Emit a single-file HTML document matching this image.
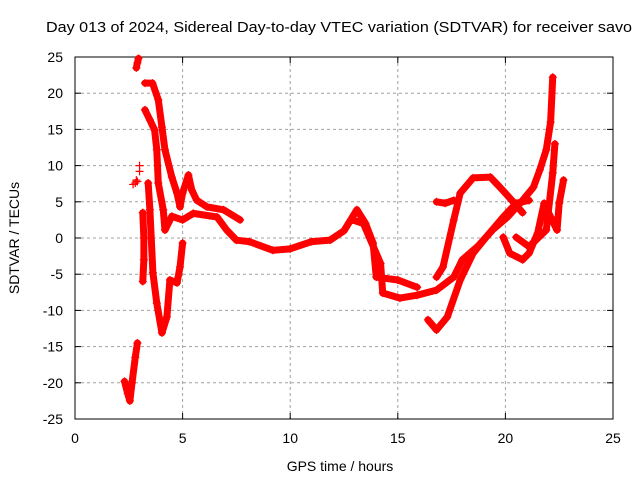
<!DOCTYPE html>
<html><head><meta charset="utf-8"><style>
body{margin:0;background:#fff;}
svg{display:block;font-family:"Liberation Sans",sans-serif;}
</style></head><body>
<svg id="chart" width="640" height="480">
<text x="339" y="32" text-anchor="middle" font-size="15" textLength="586" lengthAdjust="spacingAndGlyphs">Day 013 of 2024, Sidereal Day-to-day VTEC variation (SDTVAR) for receiver savo</text>
<g id="grid"></g>
<g id="axes"></g>
<g id="series"></g>
<text x="340" y="471" text-anchor="middle" font-size="14">GPS time / hours</text>
<text transform="translate(19,238) rotate(-90)" text-anchor="middle" font-size="14">SDTVAR / TECUs</text>
</svg>
<script>
const xTicks=[0,5,10,15,20,25];
const yTicks=[-25,-20,-15,-10,-5,0,5,10,15,20,25];
const trackEarlyTop=[[2.85,23.5],[2.9,24.2],[2.95,24.8]];
const trackEarlyBottom=[[2.3,-19.8],[2.45,-21.5],[2.55,-22.5],[2.65,-20],[2.8,-16.5],[2.9,-14.5]];
const trackLeftCluster=[[2.7,7.4],[2.85,8],[3.0,9.2],[2.8,7.6],[3.0,10],[2.9,7.8]];
const trackLeftColumn=[[3.15,3.5],[3.2,0],[3.2,-3],[3.15,-6]];
const trackDescA=[[3.25,21.4],[3.6,21.4],[3.87,19.1],[4.04,15.3],[4.18,12.2],[4.5,8.4],[4.74,6.2],[4.88,4.3],[5.0,6.2],[5.27,8.7],[5.43,6.6],[5.66,5.2],[6.13,4.3],[6.9,3.9],[7.67,2.5]];
const trackDescB=[[3.25,17.7],[3.48,16.3],[3.7,14.9],[3.8,12.2],[3.87,7.6],[4.1,3.9],[4.18,1.1],[4.5,3],[5.0,2.5],[5.5,3.4],[6.6,2.9],[7.05,1.1],[7.5,-0.3],[8.1,-0.5],[9.2,-1.7],[10.0,-1.5],[11.0,-0.5],[11.85,-0.3],[12.5,1],[13.1,3.9],[13.5,2],[13.85,-0.7],[14.0,-5.4],[15.0,-5.8],[15.9,-6.8]];
const trackDescC=[[5.0,-0.7],[4.88,-4],[4.74,-6.2],[4.41,-5.8],[4.27,-10.9],[4.04,-13.1],[3.8,-9],[3.62,-4.8],[3.48,3.9],[3.4,7.6]];
const trackMain=[[12.9,2.5],[13.4,2],[14.2,-3.5],[14.3,-7.6],[15.1,-8.3],[15.9,-7.9],[16.8,-7.2],[17.6,-5.4],[18.0,-3],[18.7,-1.2],[19.4,1.1],[20.1,2.9],[20.8,5.2],[21.3,7],[21.6,9.4],[21.9,12.2],[22.1,16],[22.2,22.2]];
const trackRise=[[16.4,-11.3],[16.8,-12.7],[17.3,-10.9],[17.9,-5.8],[18.5,-2.1],[19.1,0.1],[19.9,2.9],[20.5,4.8],[21.1,5.2]];
const trackLoop=[[16.8,-5.4],[17.1,-4],[17.6,2.5],[17.9,6.2],[18.5,8.3],[19.3,8.4],[19.75,7],[20.3,5.2],[20.8,3.5]];
const trackLoopBranch=[[16.8,5],[17.2,4.8],[17.6,5.2]];
const trackLate=[[19.9,0.1],[20.2,-2.1],[20.8,-3],[21.1,-2.1],[21.5,0.7],[21.8,4.8],[22.1,2.9],[22.4,1.1],[22.5,4.8],[22.7,8]];
const trackLate2=[[20.5,0.1],[21.1,-1.2],[21.9,1.1],[22.2,9],[22.3,13]];
const tracks=[trackEarlyTop,trackEarlyBottom,trackLeftCluster,trackLeftColumn,trackDescA,trackDescB,trackDescC,trackMain,trackRise,trackLoop,trackLoopBranch,trackLate,trackLate2];
const trackNames=['track-early-top','track-early-bottom','track-left-cluster','track-left-column','track-desc-a','track-desc-b','track-desc-c','track-main','track-rise','track-loop','track-loop-branch','track-late','track-late-2'];

const L=75,R=613,T=57,B=419;
const xS=v=>L+(v-0)/25*(R-L);
const yS=v=>B-(v+25)/50*(B-T);
const NS='http://www.w3.org/2000/svg';
function mk(tag,attrs,parent){const e=document.createElementNS(NS,tag);for(const k in attrs)e.setAttribute(k,attrs[k]);parent.appendChild(e);return e;}
const grid=document.getElementById('grid'),axes=document.getElementById('axes'),series=document.getElementById('series');
xTicks.forEach(t=>{
  const x=xS(t);
  if(t>0&&t<25){const g=mk('line',{x1:x,x2:x,y1:T,y2:B,stroke:'#a0a0a0','stroke-dasharray':'3,3'},grid);
  
  }
  mk('line',{x1:x,x2:x,y1:B,y2:B-6,stroke:'#000'},axes);
  mk('line',{x1:x,x2:x,y1:T,y2:T+6,stroke:'#000'},axes);
  const lb=mk('text',{x:x,y:B+24,'text-anchor':'middle','font-size':14},axes);lb.textContent=t;
  
  
});
yTicks.forEach(t=>{
  const y=yS(t);
  if(t>-25&&t<25){const g=mk('line',{x1:L,x2:R,y1:y,y2:y,stroke:'#a0a0a0','stroke-dasharray':'3,3'},grid);
  
  }
  mk('line',{x1:L,x2:L+6,y1:y,y2:y,stroke:'#000'},axes);
  mk('line',{x1:R,x2:R-6,y1:y,y2:y,stroke:'#000'},axes);
  const lb=mk('text',{x:L-12,y:y+5,'text-anchor':'end','font-size':14},axes);lb.textContent=t;
  
  
});
const fr=mk('rect',{x:L,y:T,width:R-L,height:B-T,fill:'none',stroke:'#000'},axes);


tracks.forEach((tr,i)=>{
  const g=mk('g',{},series);
  
  
  if(tr.length>1&&i!==2){
    const pl=mk('polyline',{points:tr.map(p=>xS(p[0])+','+yS(p[1])).join(' '),fill:'none',stroke:'#f00','stroke-width':7,'stroke-linejoin':'round','stroke-linecap':'round'},g);
    
    
  }
  tr.forEach(p=>{
    const x=xS(p[0]),y=yS(p[1]);
    const m=mk('path',{d:`M${x-4},${y}H${x+4}M${x},${y-4}V${y+4}`,stroke:'#f00','stroke-width':1.2},g);
    
    
  });
});
</script>
</body></html>
